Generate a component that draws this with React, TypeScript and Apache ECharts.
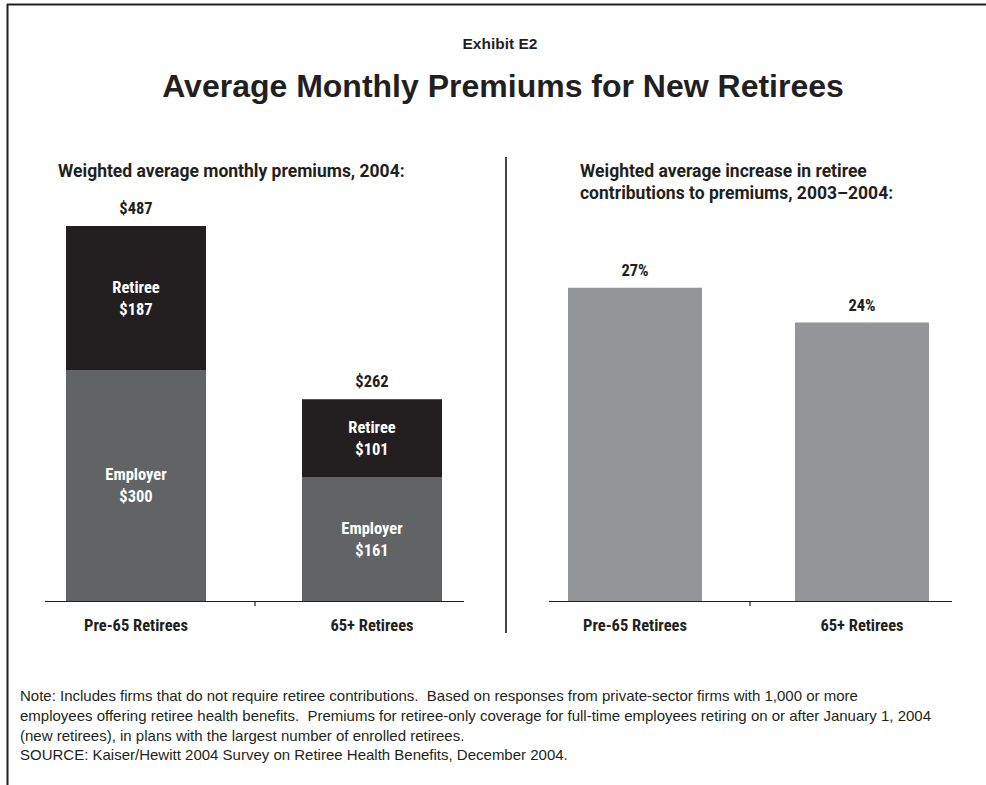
import React, { useEffect, useRef } from "react";
import * as echarts from "echarts";

const categories = ["Pre-65 Retirees", "65+ Retirees"];
const employerValues = [300, 161];
const retireeValues = [187, 101];
const totalValues = [487, 262];
const increaseValues = [27, 24];

const COND = '"Roboto Condensed", "Open Sans Condensed", "DejaVu Sans Condensed", sans-serif';
const ROBOTO = 'Roboto, "Liberation Sans", Arial, sans-serif';
const SANS = '"Liberation Sans", Arial, Helvetica, sans-serif';
const INK = "#231f20";

export default function App() {
  const ref = useRef<HTMLDivElement>(null);
  useEffect(() => {
    if (!ref.current) return;
    const chart = echarts.init(ref.current, null, { renderer: "svg" });
    const insideLabel = {
      show: true,
      position: "inside",
      color: "#ffffff",
      fontFamily: COND,
      fontWeight: "bold",
      fontSize: 16.5,
      lineHeight: 22,
    };
    const axisLabel = {
      color: INK,
      fontFamily: COND,
      fontWeight: "bold",
      fontSize: 16.5,
      margin: 16,
    };
    const topLabel = {
      show: true,
      position: "top",
      distance: 9,
      color: INK,
      fontFamily: COND,
      fontWeight: "bold",
      fontSize: 16.5,
    };
    chart.setOption({
      animation: false,
      backgroundColor: "#ffffff",
      grid: [
        { left: 18, top: 139, width: 472, height: 462 },
        { left: 521.5, top: 137, width: 454, height: 464 },
      ],
      xAxis: [
        {
          type: "category",
          gridIndex: 0,
          data: categories,
          axisLine: { show: false },
          axisTick: { show: false },
          axisLabel,
        },
        {
          type: "category",
          gridIndex: 1,
          data: categories,
          axisLine: { show: false },
          axisTick: { show: false },
          axisLabel,
        },
      ],
      yAxis: [
        { type: "value", gridIndex: 0, min: 0, max: 600, show: false },
        { type: "value", gridIndex: 1, min: 0, max: 40, show: false },
      ],
      series: [
        {
          name: "Employer",
          type: "bar",
          xAxisIndex: 0,
          yAxisIndex: 0,
          stack: "premium",
          barWidth: 140,
          data: employerValues,
          itemStyle: { color: "#626365" },
          label: {
            ...insideLabel,
            formatter: (p: any) => `Employer\n$${p.value}`,
          },
        },
        {
          name: "Retiree",
          type: "bar",
          xAxisIndex: 0,
          yAxisIndex: 0,
          stack: "premium",
          barWidth: 140,
          data: retireeValues,
          itemStyle: { color: INK },
          label: {
            ...insideLabel,
            formatter: (p: any) => `Retiree\n$${p.value}`,
          },
        },
        {
          name: "Total",
          type: "scatter",
          xAxisIndex: 0,
          yAxisIndex: 0,
          symbolSize: 0,
          itemStyle: { color: INK, opacity: 1 },
          data: totalValues,
          label: {
            ...topLabel,
            formatter: (p: any) => `$${p.value}`,
          },
        },
        {
          name: "Increase",
          type: "bar",
          xAxisIndex: 1,
          yAxisIndex: 1,
          barWidth: 134,
          data: increaseValues,
          itemStyle: { color: "#939598" },
          label: {
            ...topLabel,
            formatter: (p: any) => `${p.value}%`,
          },
        },
      ],
      graphic: [
        // frame
        { type: "line", shape: { x1: 7, y1: 4.5, x2: 986, y2: 4.5 }, style: { stroke: INK, lineWidth: 2 } },
        { type: "line", shape: { x1: 7.5, y1: 4, x2: 7.5, y2: 785 }, style: { stroke: INK, lineWidth: 2 } },
        // separator
        { type: "line", shape: { x1: 506, y1: 157, x2: 506, y2: 633 }, style: { stroke: "#444444", lineWidth: 2 } },
        // axis lines
        { type: "line", shape: { x1: 45, y1: 601.5, x2: 464, y2: 601.5 }, style: { stroke: INK, lineWidth: 1.2 } },
        { type: "line", shape: { x1: 255, y1: 601.5, x2: 255, y2: 606 }, style: { stroke: INK, lineWidth: 1.2 } },
        { type: "line", shape: { x1: 549, y1: 601.5, x2: 952, y2: 601.5 }, style: { stroke: INK, lineWidth: 1.2 } },
        { type: "line", shape: { x1: 750, y1: 601.5, x2: 750, y2: 606 }, style: { stroke: INK, lineWidth: 1.2 } },
        // titles
        {
          type: "text",
          x: 500,
          y: 43,
          style: {
            text: "Exhibit E2",
            fill: INK,
            font: `bold 15.5px ${SANS}`,
            textAlign: "center",
            textVerticalAlign: "middle",
          },
        },
        {
          type: "text",
          x: 503,
          y: 86,
          style: {
            text: "Average Monthly Premiums for New Retirees",
            fill: INK,
            font: `bold 32px ${SANS}`,
            textAlign: "center",
            textVerticalAlign: "middle",
          },
        },
        {
          type: "text",
          x: 58,
          y: 171,
          style: {
            text: "Weighted average monthly premiums, 2004:",
            fill: INK,
            font: `bold 17.5px ${ROBOTO}`,
            textAlign: "left",
            textVerticalAlign: "middle",
          },
        },
        {
          type: "text",
          x: 580,
          y: 160,
          style: {
            text: "Weighted average increase in retiree\ncontributions to premiums, 2003\u20132004:",
            fill: INK,
            font: `bold 17.5px ${ROBOTO}`,
            lineHeight: 22,
            textAlign: "left",
            textVerticalAlign: "top",
          },
        },
        {
          type: "text",
          x: 20,
          y: 686,
          style: {
            text:
              "Note: Includes firms that do not require retiree contributions.  Based on responses from private-sector firms with 1,000 or more\n" +
              "employees offering retiree health benefits.  Premiums for retiree-only coverage for full-time employees retiring on or after January 1, 2004\n" +
              "(new retirees), in plans with the largest number of enrolled retirees.\n" +
              "SOURCE: Kaiser/Hewitt 2004 Survey on Retiree Health Benefits, December 2004.",
            fill: INK,
            font: `15px ${SANS}`,
            lineHeight: 19.7,
            textAlign: "left",
            textVerticalAlign: "top",
          },
        },
      ],
    });
    return () => chart.dispose();
  }, []);
  return (
    <div
      ref={ref}
      style={{ position: "fixed", left: 0, top: 0, width: 986, height: 785, background: "#fff" }}
    />
  );
}
